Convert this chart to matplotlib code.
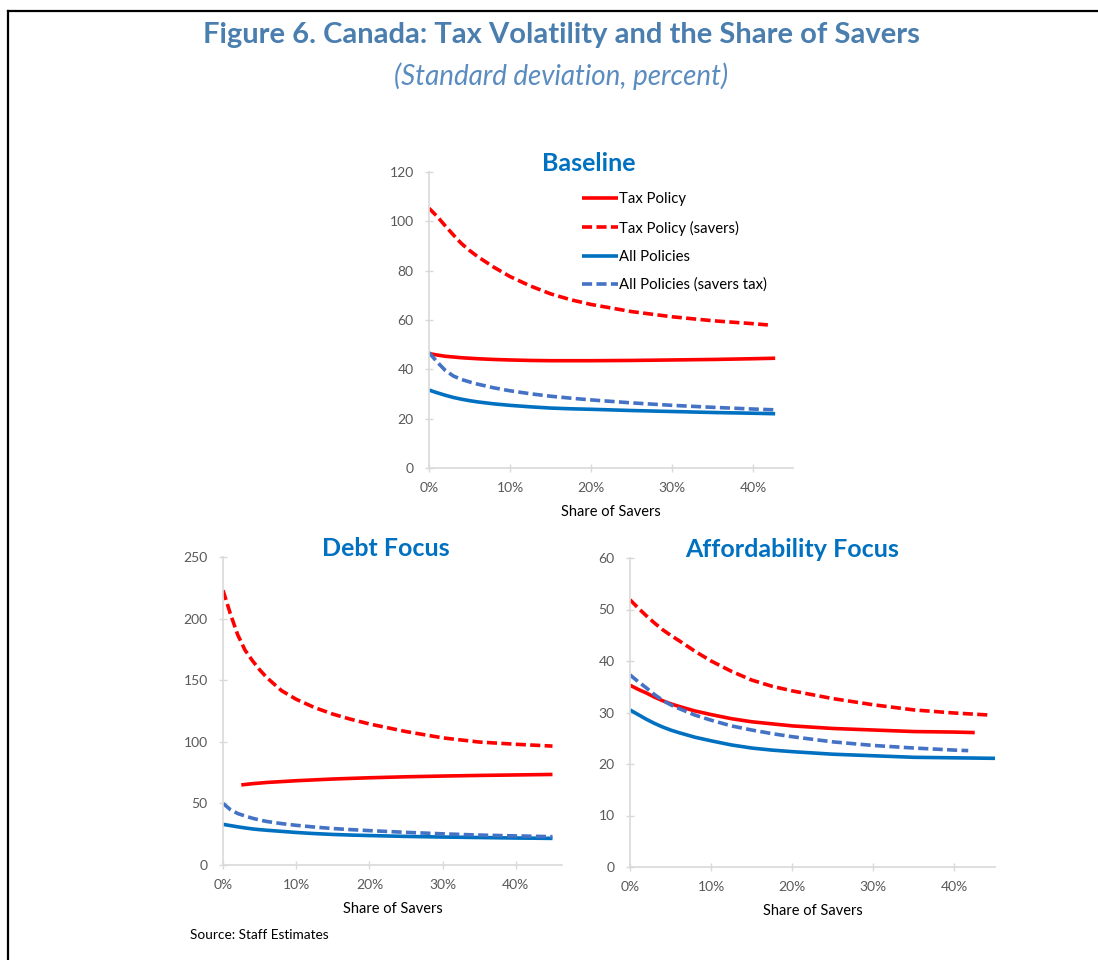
import matplotlib
matplotlib.use("Agg")
import matplotlib.pyplot as plt
from matplotlib.lines import Line2D

plt.rcParams["font.family"] = ["Lato", "DejaVu Sans"]

# ---- data (share of savers in percent, std dev in percent) ----
grid = [0, 1, 2, 3, 4, 5, 6, 8, 10, 12.5, 15, 17.5, 20, 25, 30, 35, 40]

# Baseline
x_base_tax = grid + [42.7]
x_base_tax_sav = grid + [41.8]
x_base_all = grid + [42.7]
x_base_all_sav = grid + [42.5]
tax_base = [46.4, 45.8, 45.3, 45.0, 44.7, 44.5, 44.3, 44.0, 43.8, 43.6, 43.5,
            43.5, 43.5, 43.6, 43.8, 44.0, 44.3, 44.5]
tax_sav_base = [105.3, 102.0, 98.2, 94.5, 91.0, 88.2, 85.7, 81.4, 77.6, 73.8, 70.6,
                68.2, 66.3, 63.4, 61.3, 59.7, 58.5, 58.0]
all_base = [31.6, 30.5, 29.5, 28.6, 27.9, 27.3, 26.8, 26.0, 25.4, 24.8, 24.3,
            24.0, 23.8, 23.3, 22.9, 22.5, 22.2, 22.0]
all_sav_base = [46.8, 43.0, 39.6, 37.3, 35.9, 34.9, 34.0, 32.5, 31.3, 30.1, 29.1,
                28.3, 27.6, 26.4, 25.4, 24.6, 23.9, 23.6]

# Debt Focus
x_debt = grid + [45]
x_debt_tax = [2.5, 4, 6, 8, 10, 15, 20, 25, 30, 35, 40, 45]
tax_debt = [65.0, 66.0, 67.0, 67.7, 68.4, 69.8, 70.8, 71.6, 72.2, 72.7, 73.1, 73.5]
tax_sav_debt = [223.0, 204.0, 187.0, 174.5, 166.0, 158.5, 152.0, 141.5, 134.5, 127.8,
                122.5, 118.2, 114.5, 108.3, 103.2, 99.8, 98.0, 96.5]
all_debt = [33.0, 32.0, 31.0, 30.1, 29.3, 28.7, 28.2, 27.3, 26.4, 25.5, 24.8,
            24.3, 23.9, 23.2, 22.7, 22.3, 21.9, 21.6]
all_sav_debt = [50.0, 45.0, 41.8, 39.8, 38.0, 36.5, 35.3, 33.6, 32.2, 30.8, 29.6,
                28.7, 27.9, 26.5, 25.3, 24.3, 23.6, 23.0]

# Affordability Focus
x_aff_tax = grid + [42.5]
x_aff_tax_sav = grid + [44.4]
x_aff_all = grid + [45]
x_aff_all_sav = grid + [41.7]
tax_aff = [35.3, 34.5, 33.8, 33.0, 32.3, 31.7, 31.2, 30.3, 29.6, 28.8, 28.2,
           27.8, 27.4, 26.9, 26.6, 26.3, 26.2, 26.1]
tax_sav_aff = [51.9, 50.3, 48.8, 47.4, 46.1, 45.0, 44.0, 41.9, 40.0, 38.0, 36.3,
               35.1, 34.2, 32.7, 31.5, 30.5, 29.9, 29.5]
all_aff = [30.5, 29.6, 28.7, 27.9, 27.2, 26.6, 26.1, 25.2, 24.5, 23.7, 23.1,
           22.7, 22.4, 21.9, 21.6, 21.3, 21.2, 21.1]
all_sav_aff = [37.3, 36.0, 34.8, 33.5, 32.4, 31.5, 30.8, 29.5, 28.5, 27.4, 26.6,
               25.9, 25.3, 24.3, 23.6, 23.1, 22.7, 22.6]

labels = ["Tax Policy", "Tax Policy (savers)", "All Policies", "All Policies (savers tax)"]
x_ticks = [0, 10, 20, 30, 40]

RED = "#FF0000"
BLUE = "#0070C0"
BLUE2 = "#4472C4"
GRID = "#D9D9D9"
TXT = "#595959"
DASH = (0, (2.8, 1.2))
LW = 2.6

W, H = 1098, 960
fig = plt.figure(figsize=(W / 100, H / 100), dpi=100)


def make_axes(l, r, b, t):
    # pixel box -> figure fraction
    ax = fig.add_axes([l / W, 1 - b / H, (r - l) / W, (b - t) / H])
    for s in ["top", "right"]:
        ax.spines[s].set_visible(False)
    for s in ["left", "bottom"]:
        ax.spines[s].set_color(GRID)
        ax.spines[s].set_linewidth(1.2)
    ax.tick_params(direction="inout", length=6, width=1, color=GRID,
                   labelcolor=TXT, labelsize=10)
    ax.tick_params(axis="x", pad=7)
    ax.tick_params(axis="y", pad=8)
    ax.set_xticks(x_ticks)
    ax.set_xticklabels([f"{v}%" for v in x_ticks])
    ax.set_xlabel("Share of Savers", fontsize=10.5, color="black", labelpad=8)
    return ax


def draw(ax, xs, ys):
    styles = [(RED, "-"), (RED, DASH), (BLUE, "-"), (BLUE2, DASH)]
    for x, y, (c, ls), lab in zip(xs, ys, styles, labels):
        ax.plot(x, y, color=c, linestyle=ls, lw=LW, label=lab,
                solid_capstyle="butt", dash_capstyle="butt")


# Baseline
ax1 = make_axes(429, 793, 468, 172)
draw(ax1, [x_base_tax, x_base_tax_sav, x_base_all, x_base_all_sav],
     [tax_base, tax_sav_base, all_base, all_sav_base])
ax1.set_xlim(0, 44.9)
ax1.set_ylim(0, 120)
ax1.set_yticks(range(0, 121, 20))
ax1.set_title("Baseline", fontsize=18, fontweight="bold", color=BLUE, pad=1,
              x=0.44, y=1.0)
ax1.legend(loc="upper left", bbox_to_anchor=(0.42, 0.931), frameon=False,
           fontsize=10.7, handlelength=2.4, handletextpad=0.12,
           labelspacing=0.95, borderaxespad=0, borderpad=0)

# Debt Focus
ax2 = make_axes(223, 562, 865, 557)
draw(ax2, [x_debt_tax, x_debt, x_debt, x_debt],
     [tax_debt, tax_sav_debt, all_debt, all_sav_debt])
ax2.set_xlim(0, 46.3)
ax2.set_ylim(0, 250)
ax2.set_yticks(range(0, 251, 50))
ax2.set_title("Debt Focus", fontsize=18, fontweight="bold", color=BLUE, pad=1,
              x=0.48, y=1.0)

# Affordability Focus
ax3 = make_axes(630, 995, 867, 558)
draw(ax3, [x_aff_tax, x_aff_tax_sav, x_aff_all, x_aff_all_sav],
     [tax_aff, tax_sav_aff, all_aff, all_sav_aff])
ax3.set_xlim(0, 45)
ax3.set_ylim(0, 60)
ax3.set_yticks(range(0, 61, 10))
ax3.set_title("Affordability Focus", fontsize=18, fontweight="bold", color=BLUE,
              pad=1, x=0.445, y=1.0)

# headings
fig.text(561 / W, 1 - 35 / H, "Figure 6. Canada: Tax Volatility and the Share of Savers",
         ha="center", va="center", fontsize=21, fontweight="bold", color="#4A7EAF")
fig.text(561 / W, 1 - 76 / H, "(Standard deviation, percent)", ha="center",
         va="center", fontsize=20, style="italic", color="#5B8CBF")
fig.text(190 / W, 1 - 935 / H, "Source: Staff Estimates", ha="left", va="center",
         fontsize=9.8, color="black")

# frame lines
fig.add_artist(Line2D([8 / W, 1], [1 - 11 / H, 1 - 11 / H], color="black", lw=1.6))
fig.add_artist(Line2D([8 / W, 8 / W], [1 - 11 / H, 0], color="black", lw=1.6))

fig.savefig("out.png", dpi=100)
